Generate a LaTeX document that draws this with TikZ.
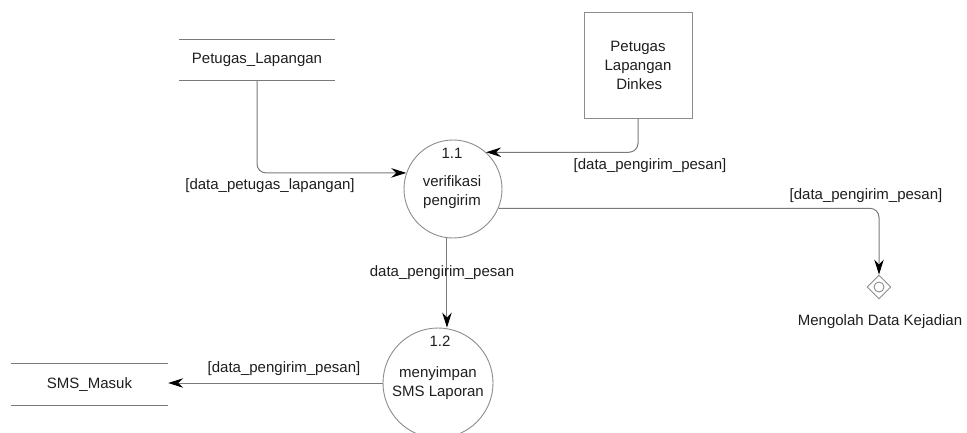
\documentclass[tikz,border=0pt]{standalone}
\usepackage{fontspec}
\setmainfont{Liberation Sans}
\usetikzlibrary{arrows.meta,shapes.geometric,calc}
\definecolor{linegray}{HTML}{7A7A7A}
\definecolor{shapegray}{HTML}{8C8C8C}
\definecolor{txt}{HTML}{1E1E1E}
\begin{document}
\begin{tikzpicture}[x=1pt,y=-1pt,
  every node/.style={font=\fontsize{15}{19}\selectfont, text=txt},
  lbl/.style={inner sep=0pt},
  proc/.style={circle, draw=shapegray, line width=0.9pt, minimum size=#1, inner sep=0pt},
  store/.style={minimum width=156pt, minimum height=40pt, inner sep=0pt},
  entity/.style={draw=shapegray, line width=0.9pt, minimum width=108pt, minimum height=106pt, inner sep=0pt, align=center},
  flow/.style={draw=linegray, line width=1pt, rounded corners=9pt,
    -{Stealth[length=15pt, width=9.5pt, inset=5pt, color=black]}},
  plainline/.style={draw=linegray, line width=1pt}
]
\useasboundingbox (0,0) rectangle (967,432);

% data stores
\node[store] (s1) at (257,60) {Petugas\_Lapangan};
\draw[plainline] (s1.north west) -- (s1.north east);
\draw[plainline] (s1.south west) -- (s1.south east);

\node[store, minimum width=157pt, minimum height=41pt] (sm) at (89.5,384.5) {SMS\_Masuk};
\draw[plainline] (sm.north west) -- (sm.north east);
\draw[plainline] (sm.south west) -- (sm.south east);

% external entity
\node[entity] (d) at (638,65) {Petugas\\Lapangan\\\,Dinkes};

% processes
\node[proc=98pt] (p11) at (453,189) {};
\node[lbl] (p11n) at (452,153) {1.1};
\node[lbl, align=center] (p11t) at (452,192) {verifikasi\\pengirim};

\node[proc=110pt] (p12) at (438,383) {};
\node[lbl] (p12n) at (440,341) {1.2};
\node[lbl, align=center] (p12t) at (438,383) {menyimpan\\SMS Laporan};

% terminal diamond
\node[diamond, draw=shapegray, line width=0.9pt, minimum size=24pt, inner sep=0pt] (dm) at (879,287) {};
\node[circle, draw=shapegray, line width=0.9pt, minimum size=10pt, inner sep=0pt] (dmc) at (879,287) {};
\node[lbl] (dml) at (880,322) {Mengolah Data Kejadian};

% flows
\draw[flow] (s1.south) |- (p11.161);
\draw[flow] (d.south) |- (p11.48);
\draw[flow] (p11.-23) -| (dm.north);
\draw[flow] (p11.-97) -- (p11.-97 |- p12.north);
\draw[flow] (p12.west) -- (p12.west -| sm.east);

% flow labels
\node[lbl] (l1) at (270,186) {[data\_petugas\_lapangan]};
\node[lbl] (l2) at (650,166) {[data\_pengirim\_pesan]};
\node[lbl] (l3) at (866,196) {[data\_pengirim\_pesan]};
\node[lbl] (l4) at (442,273) {data\_pengirim\_pesan};
\node[lbl] (l5) at (284,369) {[data\_pengirim\_pesan]};
\end{tikzpicture}
\end{document}
